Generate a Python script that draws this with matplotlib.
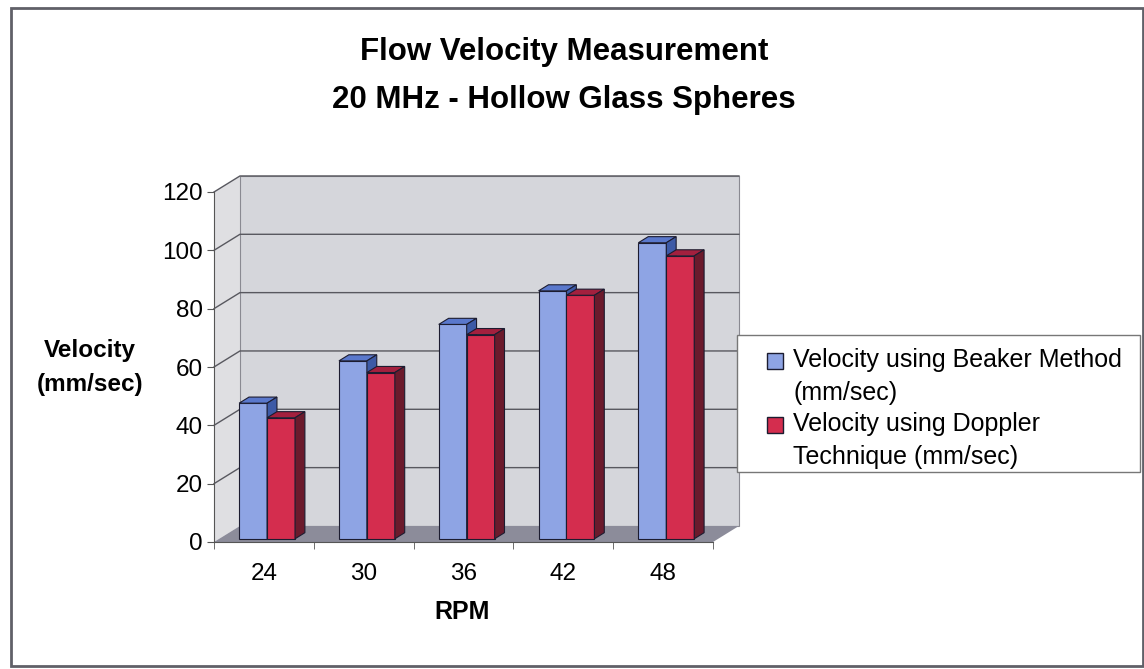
import matplotlib.pyplot as plt
from matplotlib.patches import Polygon, Rectangle

rpm = ['24', '30', '36', '42', '48']
beaker = [46.5, 61, 73.5, 85, 101.5]
doppler = [41.5, 57, 70, 83.5, 97]
series_names = ['Velocity using Beaker Method\n(mm/sec)',
                'Velocity using Doppler\nTechnique (mm/sec)']
yticks = [0, 20, 40, 60, 80, 100, 120]

plt.rcParams['font.family'] = ['Liberation Sans', 'DejaVu Sans']

W, H = 1144, 669
fig = plt.figure(figsize=(W / 100, H / 100), dpi=100)
fig.patch.set_facecolor('white')
ax = fig.add_axes([214 / W, 1 - 542 / H, 499 / W, 350 / H])
ax.set_xlim(-0.5, 4.5)
ax.set_ylim(0, 120)
ax.patch.set_visible(False)

DX, DY = 0.26, 5.5  # depth of the fake 3d box (data units)


def poly(pts, fc, ec='none', lw=0.8, z=1):
    ax.add_patch(Polygon(pts, closed=True, facecolor=fc, edgecolor=ec,
                         linewidth=lw, zorder=z, clip_on=False))


# side wall, back wall, floor
poly([(-0.5, 0), (-0.5 + DX, DY), (-0.5 + DX, 120 + DY), (-0.5, 120)], '#dfdfe2')
poly([(-0.5 + DX, DY), (4.5 + DX, DY), (4.5 + DX, 120 + DY), (-0.5 + DX, 120 + DY)],
     '#d5d6db', ec='#8a8a92')
poly([(-0.5, 0), (4.5, 0), (4.5 + DX, DY), (-0.5 + DX, DY)], '#8c8c9a')
for v in yticks[1:]:
    ax.plot([-0.5, -0.5 + DX, 4.5 + DX], [v, v + DY, v + DY],
            color='#58585f', lw=1, zorder=2, clip_on=False)

# bars
F, G = 0.2, 0.38
bw = 0.28
colors = [('#8ea4e4', '#5a78cc', '#3d5aa6'), ('#d42d4e', '#a3203e', '#6b1a2c')]
edge = '#1c1c30'
for i in range(len(rpm)):
    for s, vals in enumerate([beaker, doppler]):
        x0 = i - 0.3 + s * bw + F * DX
        x1 = x0 + bw
        y0 = F * DY
        y1 = y0 + vals[i]
        ddx, ddy = G * DX, G * DY
        front, top, side = colors[s]
        poly([(x0, y0), (x1, y0), (x1, y1), (x0, y1)], front, ec=edge, z=3)
        poly([(x0, y1), (x1, y1), (x1 + ddx, y1 + ddy), (x0 + ddx, y1 + ddy)], top, ec=edge, z=3)
        poly([(x1, y0), (x1 + ddx, y0 + ddy), (x1 + ddx, y1 + ddy), (x1, y1)], side, ec=edge, z=3)

for sp in ['top', 'right']:
    ax.spines[sp].set_visible(False)
for sp in ['left', 'bottom']:
    ax.spines[sp].set_color('#555555')
    ax.spines[sp].set_zorder(4)
ax.set_yticks(yticks)
ax.tick_params(axis='y', length=5, color='#555555', labelsize=17.5, pad=3)
ax.set_xticks(range(len(rpm)))
ax.set_xticklabels(rpm)
ax.set_xticks([i - 0.5 for i in range(len(rpm) + 1)], minor=True)
ax.tick_params(axis='x', which='major', length=0, labelsize=17.5, pad=15)
ax.tick_params(axis='x', which='minor', length=5, color='#555555')

fig.text(564 / W, 1 - 52 / H, 'Flow Velocity Measurement', ha='center', va='center',
         fontsize=22.5, weight='bold')
fig.text(564 / W, 1 - 100 / H, '20 MHz - Hollow Glass Spheres', ha='center', va='center',
         fontsize=22.5, weight='bold')
fig.text(90 / W, 1 - 351 / H, 'Velocity', ha='center', va='center',
         fontsize=17.5, weight='bold')
fig.text(90 / W, 1 - 384 / H, '(mm/sec)', ha='center', va='center',
         fontsize=17.5, weight='bold')
fig.text(462 / W, 1 - 612 / H, 'RPM', ha='center', va='center', fontsize=18, weight='bold')

# legend box drawn by hand to match the spacing
fig.add_artist(Rectangle((737 / W, 1 - 472 / H), (1140 - 737) / W, (472 - 335) / H,
                         transform=fig.transFigure, facecolor='white', ec='#777777', lw=1))
for s, name in enumerate(series_names):
    ytop = 353 + s * 64
    fig.add_artist(Rectangle((767 / W, 1 - (ytop + 16) / H), 16 / W, 16 / H,
                             transform=fig.transFigure, facecolor=colors[s][0], ec=edge, lw=1))
    for k, line in enumerate(name.split('\n')):
        fig.text(793 / W, 1 - (360 + s * 64 + k * 33) / H, line, ha='left', va='center',
                 fontsize=18)

fig.add_artist(Rectangle((11 / W, 3 / H), (1143 - 11) / W, (661 - 3) / H,
                         transform=fig.transFigure, fill=False, ec='#606068', lw=2))

fig.savefig('out.png', dpi=100)
